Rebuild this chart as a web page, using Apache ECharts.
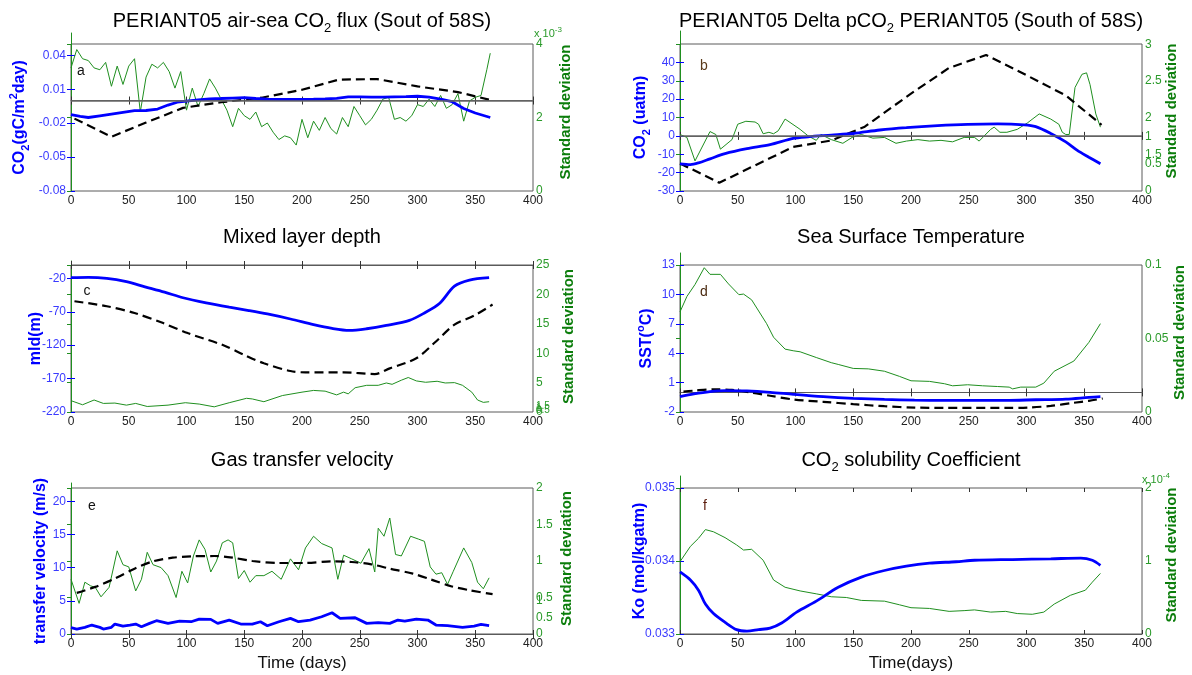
<!DOCTYPE html>
<html>
<head>
<meta charset="utf-8">
<title>PERIANT05</title>
<script src="https://cdn.jsdelivr.net/npm/echarts/dist/echarts.min.js"></script>
<style>
html, body { margin: 0; padding: 0; background: #fff; }
#main { width: 1192px; height: 675px; }
</style>
</head>
<body>
<div id="main"></div>
<script>
// x axis (days)
var dayTicks = [0, 50, 100, 150, 200, 250, 300, 350, 400];

// a: air-sea CO2 flux
var fluxDays = [0,8,15,25,35,45,55,65,75,84,92,100,110,120,130,140,150,160,170,180,190,200,210,220,230,240,250,260,270,280,290,300,310,320,330,340,350,363];
var fluxBlue = [-0.0125,-0.014,-0.015,-0.0135,-0.012,-0.0105,-0.009,-0.0088,-0.0075,-0.004,-0.0015,-0.0005,0.0005,0.0015,0.0018,0.0022,0.0025,0.0018,0.0012,0.001,0.001,0.001,0.0012,0.0015,0.002,0.0033,0.0032,0.003,0.003,0.0033,0.0035,0.0038,0.003,0.0012,-0.001,-0.007,-0.011,-0.015];
var fluxDashDays = [3,35,65,97,130,165,200,232,265,300,335,365];
var fluxDash = [-0.016,-0.032,-0.0195,-0.0065,-0.0015,0.0025,0.0095,0.0185,0.019,0.0125,0.0075,0.0];
var fluxSdDays = [0,5,10,15,20,25,30,35,40,45,50,55,60,65,70,75,80,85,90,95,100,105,110,115,120,125,130,135,140,145,150,155,160,165,170,175,180,185,190,195,200,205,210,215,220,225,230,235,240,245,250,255,260,265,270,275,280,285,290,295,300,305,310,315,320,325,330,335,340,345,350,355,360,363];
var fluxSd = [3.35,3.85,3.6,3.55,3.35,3.3,3.5,2.85,3.4,2.9,3.4,3.6,2.15,3.1,3.45,3.35,3.5,3.25,2.8,3.25,2.2,2.8,2.3,2.65,3.05,2.8,2.5,2.2,1.75,2.25,2.05,1.95,2.15,1.75,1.85,1.6,1.4,1.5,1.45,1.25,1.95,1.45,1.9,1.65,2.0,1.7,1.55,2.0,1.75,2.3,2.05,1.8,1.95,2.2,2.5,2.55,1.95,2.0,1.9,2.05,2.35,2.3,2.5,2.3,2.6,2.25,2.35,2.65,1.9,2.45,2.55,2.6,3.3,3.75];

// b: delta pCO2
var dpco2Days = [0,9,16,26,39,58,78,98,111,131,150,173,196,223,249,275,298,308,321,334,344,354,364];
var dpco2Blue = [-15.2,-15.6,-14.7,-12.5,-9.7,-7,-4.8,-1.4,-0.5,0.4,1.3,3.2,4.5,5.6,6.3,6.5,6,5,1.3,-3.3,-7.9,-11.6,-15.2];
var dpco2DashDays = [0,34,98,131,160,200,233,265,300,334,365];
var dpco2Dash = [-15,-25.5,-6,-2.5,5,23,37,44,33,22,6];
var dpco2SdDays = [0,6,13,26,31,35,45,50,57,65,68,72,77,81,85,91,104,111,118,122,131,141,149,157,167,177,187,196,206,216,226,236,246,255,259,269,272,277,283,292,301,311,321,328,331,334,337,342,348,352,355,360,364];
var dpco2Sd = [1.77,1.73,1.41,1.81,1.77,1.57,1.7,1.91,1.95,1.94,1.91,1.78,1.8,1.78,1.82,1.98,1.84,1.75,1.69,1.77,1.7,1.65,1.73,1.77,1.72,1.73,1.65,1.68,1.7,1.68,1.69,1.67,1.73,1.73,1.68,1.84,1.87,1.8,1.8,1.84,1.93,2.05,1.98,1.91,1.8,1.77,1.77,2.41,2.59,2.61,2.45,2.05,1.87];

// c: mixed layer depth
var mldDays = [0,15,31,48,64,81,97,117,137,154,170,190,210,226,241,256,273,293,306,319,332,345,362];
var mldBlue = [-19,-18.5,-20,-25,-32.6,-40.6,-49,-56.7,-63.2,-68.2,-73.3,-80.8,-89.3,-94.9,-97.9,-95.4,-90.4,-82.8,-71.8,-57.7,-31.6,-22.5,-19];
var mldDashDays = [3,31,55,78,101,131,150,167,190,203,236,263,276,299,316,332,349,365];
var mldDash = [-54.2,-61.7,-71.8,-85.8,-101.9,-119.5,-134.6,-147.1,-158.7,-160.7,-160.7,-163.2,-154.7,-139.6,-114.5,-89.3,-75.8,-59.2];
var mldSdDays = [0,10,20,28,38,48,56,66,84,99,111,124,137,152,157,167,183,200,210,220,230,236,240,246,256,266,273,278,286,292,299,307,317,324,332,339,347,352,357,362];
var mldSd = [1.93,1.23,2.04,1.46,1.52,1.17,1.46,0.94,1.17,1.58,1.35,0.88,1.58,2.33,2.22,1.75,2.8,3.38,3.67,3.55,2.91,3.38,3.09,4.13,4.54,4.54,4.94,4.71,5.41,5.87,5.29,5.06,5.23,4.94,5.0,4.54,3.38,2.04,1.64,1.75];

// d: sea surface temperature
var sstDays = [0,12,26,39,58,78,98,124,150,177,203,229,255,282,308,334,354,364];
var sstBlue = [-0.44,-0.16,0.08,0.18,0.15,0.01,-0.2,-0.44,-0.61,-0.72,-0.79,-0.82,-0.82,-0.82,-0.75,-0.68,-0.51,-0.44];
var sstDashDays = [3,12,29,45,62,78,98,124,150,177,203,229,255,282,301,321,341,354,366];
var sstDash = [0.08,0.18,0.32,0.25,-0.02,-0.34,-0.72,-0.96,-1.2,-1.41,-1.55,-1.58,-1.58,-1.58,-1.55,-1.38,-1.06,-0.86,-0.62];
var sstSdDays = [0,6,13,21,26,35,42,51,55,62,75,81,91,98,104,118,131,137,150,163,177,190,200,216,229,236,249,262,275,285,288,295,308,315,324,341,354,364];
var sstSd = [0.068,0.0785,0.0866,0.098,0.0935,0.0935,0.087,0.0797,0.0801,0.0762,0.06,0.0508,0.0427,0.0416,0.0409,0.037,0.0335,0.0323,0.0296,0.0293,0.0277,0.0242,0.0212,0.0208,0.0192,0.0178,0.0185,0.0178,0.0173,0.0169,0.0157,0.0169,0.0169,0.0196,0.0277,0.0346,0.0473,0.06];

// e: gas transfer velocity
var kwDays = [0,5,12,18,25,28,35,38,45,51,56,61,68,74,84,94,104,111,121,127,137,147,157,164,170,180,190,197,207,217,226,233,246,256,266,276,283,289,299,309,316,326,339,349,355,362];
var kwBlue = [0.95,0.75,1.0,1.35,1.0,0.75,1.0,1.5,1.2,1.35,1.5,1.1,1.6,2.0,1.6,1.95,1.85,2.25,2.2,1.6,2.1,1.5,1.5,1.85,1.25,1.85,2.35,1.85,2.1,2.6,3.2,2.35,2.45,1.6,1.7,1.6,2.1,1.95,2.25,2.1,1.35,1.25,1.0,1.2,1.45,1.25];
var kwDashDays = [5,21,38,55,71,88,104,124,140,157,180,203,226,243,260,276,296,312,329,345,365];
var kwDash = [6.2,7.1,8.35,9.85,10.95,11.5,11.7,11.75,11.5,11.0,10.7,10.7,10.95,10.85,10.5,9.85,9.1,8.2,7.2,6.6,6.0];
var kwSdDays = [0,7,12,17,21,26,33,40,45,50,56,61,66,71,78,84,91,96,101,106,111,116,121,126,131,136,140,145,150,155,160,167,174,182,190,197,203,210,217,226,231,236,243,251,258,263,266,271,276,281,286,294,301,306,311,316,321,326,331,340,347,352,357,362];
var kwSd = [0.75,0.42,0.71,0.66,0.64,0.51,0.64,1.14,0.95,0.92,0.59,0.75,1.12,0.95,0.91,0.8,0.5,0.86,0.7,1.07,1.29,1.16,0.85,1.0,1.25,1.29,1.25,0.76,0.87,0.71,0.8,0.8,0.86,0.75,1.03,0.88,1.18,1.34,1.24,1.18,0.75,1.08,1.03,0.97,1.17,0.85,1.45,1.34,1.59,1.09,1.07,1.34,1.3,1.27,0.92,0.82,0.84,0.68,0.86,1.18,0.98,0.71,0.62,0.77];

// f: CO2 solubility
var koDays = [0,9,16,22,29,39,49,58,68,78,88,101,118,137,157,177,196,216,239,255,288,321,347,357,364];
var koBlue = [0.03385,0.03374,0.0336,0.03341,0.03328,0.03316,0.03306,0.03304,0.03306,0.03308,0.03315,0.0333,0.03345,0.03364,0.03378,0.03387,0.03393,0.03397,0.03399,0.03401,0.03402,0.03403,0.03404,0.03401,0.03394];
var koSdDays = [0,9,16,22,29,39,49,55,62,72,81,91,104,118,131,144,157,177,190,200,216,233,246,255,269,282,292,305,315,324,338,351,357,364];
var koSd = [0.99,1.2,1.31,1.43,1.4,1.32,1.22,1.15,1.16,1.01,0.74,0.64,0.59,0.55,0.51,0.5,0.46,0.45,0.4,0.36,0.35,0.31,0.32,0.33,0.3,0.31,0.28,0.27,0.3,0.41,0.53,0.6,0.71,0.83];

var FONT = '"Liberation Sans", Arial, Helvetica, sans-serif';
var BLUE = '#0000ff', BLUE_TXT = '#3a3aff';
var GREEN = '#1f8f1f', GREEN_TXT = '#2a9a2a', GREEN_NAME = '#0b7d0b';
var FRAME = '#5a5a5a';

var option = {
    animation: false,
    backgroundColor: '#fff',
    textStyle: { fontFamily: FONT },
    grid: [], xAxis: [], yAxis: [], series: [], graphic: []
};

function pairs(d, v) {
    var out = [];
    for (var i = 0; i < d.length; i++) out.push([d[i], v[i]]);
    return out;
}

function fmt(n) {
    return function (v) { return String(+v.toFixed(n)); };
}

function keepFmt(keep) {
    return function (v) {
        var r = +v.toFixed(2);
        return keep.indexOf(r) >= 0 ? String(r) : '';
    };
}

var nameRich = {
    sub: { fontSize: 11, fontWeight: 'bold', color: BLUE, padding: [12, 0, 0, 0] },
    sup: { fontSize: 11, fontWeight: 'bold', color: BLUE, padding: [0, 0, 12, 0] }
};

function addPanel(p) {
    var gi = option.grid.length, xi = option.xAxis.length, yi = option.yAxis.length;
    option.grid.push({ left: p.left, top: p.top, width: p.width, height: p.height, show: true,
        borderColor: FRAME, borderWidth: 1, containLabel: false, outerBoundsMode: 'none' });
    option.grid.push({ left: p.left, top: p.top - p.ext, width: p.width, height: p.height + p.ext,
        show: false, containLabel: false, outerBoundsMode: 'none' });

    var xMin = dayTicks[0], xMax = dayTicks[dayTicks.length - 1], xStep = dayTicks[1] - dayTicks[0];
    option.xAxis.push({
        type: 'value', gridIndex: gi, position: 'bottom', min: xMin, max: xMax, interval: xStep,
        axisLine: { lineStyle: { color: FRAME } },
        axisTick: { inside: true, length: 4, lineStyle: { color: '#333' } },
        axisLabel: { color: '#222', fontSize: 12, margin: 4 },
        splitLine: { show: false },
        name: p.xName || '', nameLocation: 'middle', nameGap: 21, nameMoveOverlap: false,
        nameTextStyle: { color: '#111', fontSize: 17 }
    });
    option.xAxis.push({
        type: 'value', gridIndex: gi, position: 'top', min: xMin, max: xMax, interval: xStep,
        axisLine: { show: false }, axisLabel: { show: false }, splitLine: { show: false },
        axisTick: { inside: true, length: 4, lineStyle: { color: '#333' } }
    });
    option.xAxis.push({ type: 'value', gridIndex: gi + 1, min: xMin, max: xMax, show: false });

    // left (blue) axis
    option.yAxis.push({
        type: 'value', gridIndex: gi, position: 'left', min: p.yMin, max: p.yMax, interval: p.yStep,
        axisLine: { show: true, lineStyle: { color: BLUE } },
        axisTick: { show: true, inside: true, length: 4, lineStyle: { color: BLUE } },
        axisLabel: { color: BLUE_TXT, fontSize: 12, margin: 5, formatter: p.yFmt, showMaxLabel: p.yShowMax },
        splitLine: { show: false },
        name: p.yName, nameLocation: 'middle', nameRotate: 90, nameGap: p.yGap, nameMoveOverlap: false,
        nameTextStyle: { color: BLUE, fontSize: 16, fontWeight: 'bold', rich: nameRich }
    });
    // blue ticks on right side of box
    option.yAxis.push({
        type: 'value', gridIndex: gi, position: 'right', min: p.yMin, max: p.yMax, interval: p.yStep,
        axisLine: { show: false }, axisLabel: { show: false }, splitLine: { show: false },
        axisTick: { show: true, inside: true, length: 4, lineStyle: { color: BLUE } }
    });
    // right (green) axis
    option.yAxis.push({
        type: 'value', gridIndex: gi + 1, position: 'right', min: p.gMin, max: p.gMax, interval: p.gStep,
        axisLine: { show: true, lineStyle: { color: GREEN } },
        axisTick: { show: true, inside: true, length: 4, lineStyle: { color: GREEN } },
        axisLabel: { color: GREEN_TXT, fontSize: 12, margin: 3, formatter: p.gFmt,
            showMaxLabel: false, showMinLabel: p.gShowMin !== false },
        splitLine: { show: false },
        name: 'Standard deviation', nameLocation: 'middle', nameRotate: 90, nameGap: p.gGap, nameMoveOverlap: false,
        nameTextStyle: { color: GREEN_NAME, fontSize: 15, fontWeight: 'bold' }
    });
    if (p.g2) {
        option.yAxis.push({
            type: 'value', gridIndex: gi + 1, position: 'right', min: p.g2.min, max: p.g2.max, interval: p.g2.step,
            axisLine: { show: false }, axisTick: { show: false }, splitLine: { show: false },
            axisLabel: { color: GREEN_TXT, fontSize: p.g2.size || 12, margin: 3, formatter: keepFmt(p.g2.keep),
                showMaxLabel: false }
        });
    }

    option.series.push({
        type: 'line', xAxisIndex: xi + 2, yAxisIndex: yi + 2, data: pairs(p.sd[0], p.sd[1]),
        symbol: 'none', silent: true, z: 2, lineStyle: { color: GREEN, width: 1 }
    });
    if (p.dash) {
        option.series.push({
            type: 'line', xAxisIndex: xi, yAxisIndex: yi, data: pairs(p.dash[0], p.dash[1]),
            symbol: 'none', silent: true, z: 3, smooth: p.dashSmooth || false,
            lineStyle: { color: '#000', width: 2.2, type: [9, 5] }
        });
    }
    var blue = {
        type: 'line', xAxisIndex: xi, yAxisIndex: yi, data: pairs(p.blue[0], p.blue[1]),
        symbol: 'none', silent: true, z: 4, smooth: p.blueSmooth || false,
        lineStyle: { color: BLUE, width: 2.8 }
    };
    if (p.zero) {
        blue.markLine = { silent: true, symbol: 'none', label: { show: false },
            lineStyle: { color: '#666', type: 'solid', width: 1.5 }, data: [{ yAxis: 0 }] };
    }
    option.series.push(blue);
}

var titleRich = { sub: { fontSize: 13, padding: [15, 0, 0, 0] } };
function addText(x, y, text, size, color, align) {
    option.graphic.push({
        type: 'text', x: x, y: y, silent: true,
        style: { text: text, fill: color, font: size + 'px ' + FONT,
            textAlign: align || 'center', textVerticalAlign: 'middle',
            align: align || 'center', verticalAlign: 'middle', rich: titleRich }
    });
}

addPanel({ left: 71, top: 44, width: 462, height: 147, ext: 11,
    yMin: -0.08, yMax: 0.05, yStep: 0.03, yFmt: fmt(2), yShowMax: false,
    yName: 'CO{sub|2}(gC/m{sup|2}day)', yGap: 40,
    gMin: 0, gMax: 4.3, gStep: 2, gFmt: fmt(0), gGap: 25,
    blue: [fluxDays, fluxBlue], dash: [fluxDashDays, fluxDash], sd: [fluxSdDays, fluxSd], zero: true });

addPanel({ left: 680, top: 44, width: 462, height: 147, ext: 13,
    yMin: -30, yMax: 50, yStep: 10, yFmt: fmt(0), yShowMax: false,
    yName: 'CO{sub|2} (uatm)', yGap: 28,
    gMin: 1, gMax: 3.18, gStep: 0.5, gFmt: fmt(1), gShowMin: false, gGap: 22,
    g2: { min: 0, max: 2.96, step: 0.5, keep: [0, 0.5, 1] },
    blue: [dpco2Days, dpco2Blue], blueSmooth: 0.3, dash: [dpco2DashDays, dpco2Dash], sd: [dpco2SdDays, dpco2Sd], zero: true });

addPanel({ left: 71, top: 265, width: 462, height: 147, ext: 4,
    yMin: -220, yMax: 0, yStep: 50, yFmt: fmt(0), yShowMax: false,
    yName: 'mld(m)', yGap: 27,
    gMin: 0, gMax: 25.7, gStep: 5, gFmt: fmt(0), gGap: 28,
    g2: { min: 0, max: 40, step: 0.5, keep: [0, 0.5, 1, 1.5], size: 10 },
    blue: [mldDays, mldBlue], blueSmooth: 0.3, dash: [mldDashDays, mldDash], dashSmooth: 0.3, sd: [mldSdDays, mldSd] });

addPanel({ left: 680, top: 265, width: 462, height: 147, ext: 12,
    yMin: -2, yMax: 13, yStep: 3, yFmt: fmt(0), yShowMax: true,
    yName: 'SST({sup|o}C)', yGap: 22,
    gMin: 0, gMax: 0.108, gStep: 0.05, gFmt: fmt(2), gGap: 30,
    blue: [sstDays, sstBlue], blueSmooth: 0.3, dash: [sstDashDays, sstDash], dashSmooth: 0.3, sd: [sstSdDays, sstSd] });

addPanel({ left: 71, top: 488, width: 462, height: 146, ext: 5,
    yMin: 0, yMax: 22, yStep: 5, yFmt: fmt(0), yShowMax: false,
    yName: 'transfer velocity (m/s)', yGap: 22,
    gMin: 0, gMax: 2.07, gStep: 0.5, gFmt: fmt(1), gGap: 26,
    g2: { min: 0, max: 4.55, step: 0.5, keep: [0.5, 1] },
    blue: [kwDays, kwBlue], dash: [kwDashDays, kwDash], dashSmooth: 0.3, sd: [kwSdDays, kwSd],
    xName: 'Time (days)' });

addPanel({ left: 680, top: 488, width: 462, height: 146, ext: 12,
    yMin: 0.033, yMax: 0.035, yStep: 0.001, yFmt: fmt(3), yShowMax: true,
    yName: 'Ko (mol/kgatm)', yGap: 32,
    gMin: 0, gMax: 2.164, gStep: 1, gFmt: fmt(0), gGap: 22,
    blue: [koDays, koBlue], blueSmooth: 0.3, sd: [koSdDays, koSd],
    xName: 'Time(days)' });

// titles
addText(302, 21, 'PERIANT05 air-sea CO{sub|2} flux (Sout of 58S)', 20, '#000');
addText(911, 21, 'PERIANT05 Delta pCO{sub|2} PERIANT05 (South of 58S)', 20, '#000');
addText(302, 237, 'Mixed layer depth', 20, '#000');
addText(911, 237, 'Sea Surface Temperature', 20, '#000');
addText(302, 460, 'Gas transfer velocity', 20, '#000');
addText(911, 460, 'CO{sub|2} solubility Coefficient', 20, '#000');

// panel letters
addText(81, 71, 'a', 14, '#111');
addText(704, 66, 'b', 14, '#5a3a1a');
addText(87, 291, 'c', 14, '#111');
addText(704, 292, 'd', 14, '#4a2a10');
addText(92, 506, 'e', 14, '#111');
addText(705, 506, 'f', 14, '#5a1a0a');

// exponent labels
option.graphic.push({ type: 'text', x: 534, y: 34, silent: true,
    style: { text: 'x 10{s|-3}', fill: GREEN_TXT, font: '11px ' + FONT, textAlign: 'left', align: 'left',
        textVerticalAlign: 'middle', verticalAlign: 'middle', rich: { s: { fontSize: 8, padding: [0, 0, 9, 0] } } } });
option.graphic.push({ type: 'text', x: 1142, y: 480, silent: true,
    style: { text: 'x 10{s|-4}', fill: GREEN_TXT, font: '11px ' + FONT, textAlign: 'left', align: 'left',
        textVerticalAlign: 'middle', verticalAlign: 'middle', rich: { s: { fontSize: 8, padding: [0, 0, 9, 0] } } } });

var myChart = echarts.init(document.getElementById('main'), null, { renderer: 'canvas' });
myChart.setOption(option, true);
</script>
</body>
</html>
